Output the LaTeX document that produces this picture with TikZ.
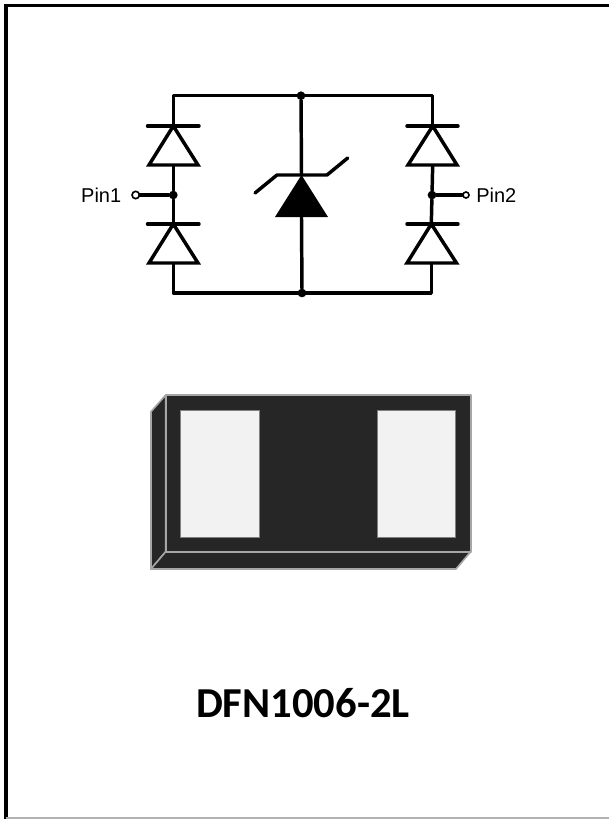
\documentclass[tikz,border=0pt]{standalone}
\usepackage{fontspec}
\setmainfont{Liberation Sans}
\newfontfamily\titlefont{Carlito}
\usepackage{xcolor}
\definecolor{body}{HTML}{262626}
\definecolor{pad}{HTML}{F2F2F2}
\definecolor{rim}{HTML}{A6A6A6}
\tikzset{
	wire/.style={line width=2.6pt, line cap=round, line join=round},
	diode/.style={line width=2.6pt, line join=miter, fill=white},
	dot/.style={circle, fill=black, inner sep=0pt, minimum size=6.5pt},
	pin/.style={circle, draw, fill=white, line width=1.2pt, inner sep=0pt, minimum size=5pt},
	pinlabel/.style={font=\fontsize{15}{17}\selectfont, inner sep=0pt},
	face/.style={fill=body, draw=rim, line width=1.2pt, line join=round},
	padbox/.style={fill=pad, draw=gray, line width=0.75pt}
}
\begin{document}
\begin{tikzpicture}[x=0.75pt,y=-0.75pt]
		\useasboundingbox (0,0) rectangle (609,819);
		\fill [white] (0,0) rectangle (609,819);
		% frame
		\draw [line width=2.6pt] (6,819) -- (6,5.5) -- (609,5.5);
		\draw [line width=1.5pt, gray!60!white] (6,818) -- (609,818);
		% circuit points
		\coordinate (ltop) at (173.3,95.7);
		\coordinate (rtop) at (432.7,95.7);
		\coordinate (lbot) at (173.3,293);
		\coordinate (rbot) at (431.3,293);
		\coordinate (lak) at (173.3,126);
		\coordinate (lab) at (173.3,165);
		\coordinate (lck) at (173.3,224);
		\coordinate (lcb) at (173.3,263);
		\coordinate (rak) at (432.7,126);
		\coordinate (rab) at (432.7,165);
		\coordinate (rck) at (431.3,224);
		\coordinate (rcb) at (431.3,263);
		\coordinate (zk) at (301.5,175);
		\coordinate (zb) at (301.5,217);
		\node [dot] (top) at (301,95.7) {};
		\node [dot] (bot) at (302,293) {};
		\node [dot] (lmid) at (173.3,195) {};
		\node [dot] (rmid) at (432,195) {};
		\node [pin, minimum size=5.5pt] (pin1) at (135.7,195) {};
		\node [pin, minimum size=4.5pt] (pin2) at (466,195) {};
		\node [pinlabel, anchor=east] (pin1text) at (121.5,195) {Pin1};
		\node [pinlabel, anchor=west] (pin2text) at (476,195) {Pin2};
		% wires
		\draw [wire] (lak) -- (ltop) -- (rtop) -- (rak);
		\draw [wire] (lcb) -- (lbot) -- (rbot) -- (rcb);
		\draw [wire] (lab) -- (lmid) -- (lck);
		\draw [wire] (rab) -- (rmid) -- (rck);
		\draw [wire] (top) -- (zk);
		\draw [wire] (zb) -- (bot);
		\draw [wire] (pin1) -- (lmid);
		\draw [wire] (rmid) -- (pin2);
		% diodes
		\draw [diode] (lak) -- (149,165) -- (198,165) -- cycle;
		\draw [wire] (147.5,126) -- (199,126);
		\draw [diode] (lck) -- (149,263) -- (198,263) -- cycle;
		\draw [wire] (147.5,224) -- (199,224);
		\draw [diode] (rak) -- (408,165) -- (457,165) -- cycle;
		\draw [wire] (407,126) -- (458,126);
		\draw [diode] (rck) -- (407,263) -- (456.5,263) -- cycle;
		\draw [wire] (407,224) -- (458,224);
		% tvs
		\fill (zk) -- (275,217) -- (328,217) -- cycle;
		\draw [wire] (255,193) -- (277,175) -- (327,175) -- (347.7,158);
		% package
		\draw [face] (151,411.7) -- (165.7,395) -- (165.7,551.7) -- (151,569) -- cycle;
		\draw [face] (151,569) -- (165.7,551.7) -- (470.7,551.7) -- (456,569) -- cycle;
		\draw [face] (165.7,395) rectangle (470.7,551.7);
		\draw [padbox] (180.7,410) rectangle (259,537.3);
		\draw [padbox] (377.3,410) rectangle (455.7,537.3);
		\node [font=\titlefont\bfseries\fontsize{32}{38}\selectfont, inner sep=0pt] (partname) at (303,703) {DFN1006-2L};
\end{tikzpicture}
\end{document}
